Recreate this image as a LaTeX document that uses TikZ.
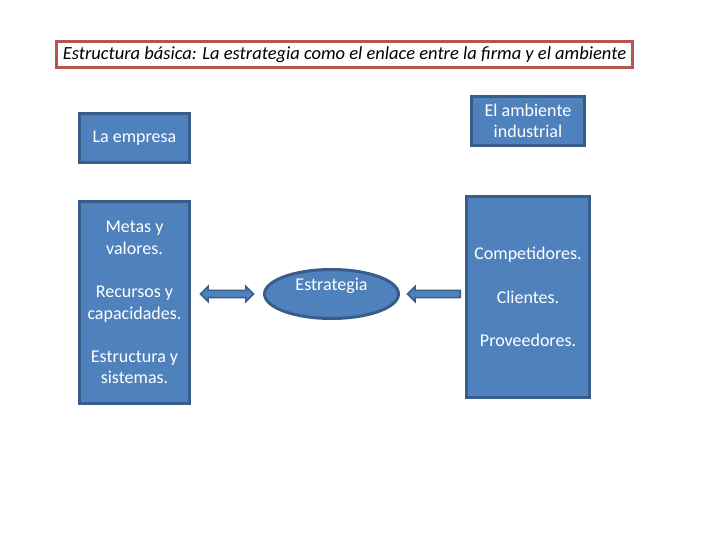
\documentclass[tikz,border=0pt]{standalone}
\usepackage{fontspec}
\setmainfont{Carlito}
\usetikzlibrary{shapes.geometric,shapes.arrows}
\definecolor{boxfill}{RGB}{79,129,189}
\definecolor{boxline}{RGB}{56,93,138}
\definecolor{titleline}{RGB}{184,84,80}
\tikzset{
  bluebox/.style={draw=boxline, fill=boxfill, line width=3pt, text=white,
    align=center, inner sep=0pt, font=\fontsize{18}{21.6}\selectfont},
  blockarrow/.style={draw=boxline, fill=boxfill, line width=1.5pt, inner sep=2.8pt,
    minimum height=53pt},
}
\begin{document}
\begin{tikzpicture}[x=1pt,y=-1pt]
          \useasboundingbox (0,0) rectangle (720,540);
          \node (title) [draw=titleline, line width=3pt, minimum width=576pt, minimum height=26pt,
            inner sep=0pt, font=\fontsize{18.5}{20}\selectfont\itshape] at (344.5,54.5)
            {Estructura básica: La estrategia como el enlace entre la firma y el ambiente};

          \node (empresa)  [bluebox, minimum width=110pt, minimum height=49pt] at (134.5,138) {La empresa};
          \node (ambiente) [bluebox, minimum width=113pt, minimum height=49pt] at (528,121) {El ambiente\\industrial};
          \node (recursos) [bluebox, minimum width=110pt, minimum height=202pt,
            below of=empresa, node distance=164.5pt]
            {Metas y\\valores.\\[21.6pt]Recursos y\\capacidades.\\[21.6pt]Estructura y\\sistemas.};
          \node (entorno)  [bluebox, minimum width=123pt, minimum height=201pt,
            below of=ambiente, node distance=176pt]
            {Competidores.\\[21.6pt]Clientes.\\[21.6pt]Proveedores.};
          \node (estrategia) [bluebox, ellipse, minimum width=134pt, minimum height=49pt,
            label={[text=white, font=\fontsize{18}{20}\selectfont, yshift=8pt]center:Estrategia}]
            at (331.5,294) {};

          \path (recursos.east |- estrategia.center) -- node [blockarrow, double arrow,
            double arrow head extend=4pt] (flechaizq) {} (estrategia.west);
          \path (entorno.west |- estrategia.center) -- node [blockarrow, single arrow, pos=0.45,
            single arrow head extend=4pt, shape border rotate=180] (flechader) {} (estrategia.east);
        \end{tikzpicture}
\end{document}
